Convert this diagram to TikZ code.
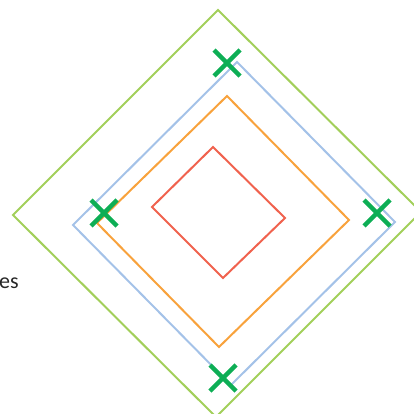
\documentclass[tikz,border=0pt]{standalone}
\usepackage{fontspec}
\setmainfont{Carlito}
\begin{document}
\begin{tikzpicture}[x=1pt,y=-1pt,
  ring/.style={line width=2pt,line join=miter},
  cross/.style={draw=xgreen,line width=4.5pt},
  ]
\definecolor{lgreen}{HTML}{A2CF5A}
\definecolor{lblue}{HTML}{A4C2E8}
\definecolor{lorange}{HTML}{F8A23C}
\definecolor{lred}{HTML}{F0624E}
\definecolor{xgreen}{HTML}{0DAE55}
\useasboundingbox (0,0) rectangle (414,414);
\clip (0,0) rectangle (414,414);
\draw[ring,lgreen] (218,10) -- (421,212) -- (216,417) -- (13,215) -- cycle;
\draw[ring,lblue] (237,62) -- (395,222) -- (231,385) -- (73,225) -- cycle;
\draw[ring,lorange] (227,96) -- (349,220) -- (219,347) -- (97,223) -- cycle;
\draw[ring,lred] (213,147) -- (285,218) -- (223,278) -- (152,207) -- cycle;
\foreach \n/\cx/\cy in {t/227/63,l/104/213,r/377/213,b/223/378}{
  \coordinate (x\n) at (\cx,\cy);
  \draw[cross] ([shift={(-13,-13)}]x\n) -- ([shift={(13,13)}]x\n);
  \draw[cross] ([shift={(-13,13)}]x\n) -- ([shift={(13,-13)}]x\n);
}
\node[anchor=base west,inner sep=0pt,font=\fontsize{22}{24}\selectfont,text=black!85] (lbl) at (-1,288) {es};
\end{tikzpicture}
\end{document}
